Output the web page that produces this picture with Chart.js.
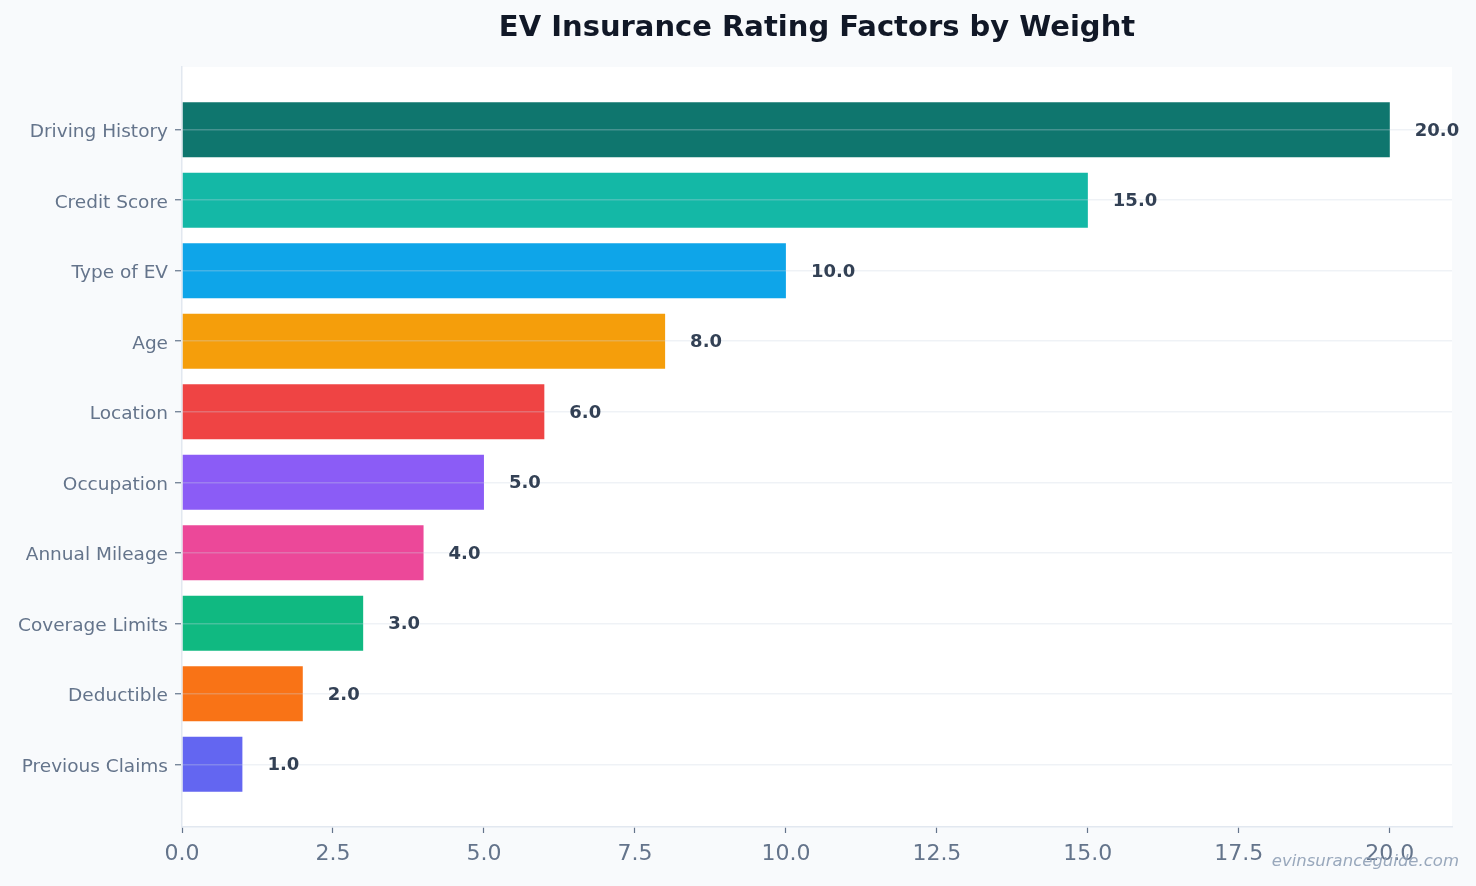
<!DOCTYPE html>
<html>
<head>
<meta charset="utf-8">
<script src="https://cdn.jsdelivr.net/npm/chart.js@4.4.1/dist/chart.umd.min.js"></script>
<style>
  html, body { margin: 0; padding: 0; background: #f8fafc; }
  #wrap { width: 1476px; height: 886px; position: relative; }
</style>
</head>
<body>
<div id="wrap"><canvas id="factorsChart"></canvas></div>
<script>
// chart data
const factors = ['Driving History', 'Credit Score', 'Type of EV', 'Age', 'Location',
  'Occupation', 'Annual Mileage', 'Coverage Limits', 'Deductible', 'Previous Claims'];
const weights = [20, 15, 10, 8, 6, 5, 4, 3, 2, 1];
const barColors = ['#0f766e', '#14b8a6', '#0ea5e9', '#f59e0b', '#ef4444',
  '#8b5cf6', '#ec4899', '#10b981', '#f97316', '#6366f1'];
const xTicks = [0, 2.5, 5, 7.5, 10, 12.5, 15, 17.5, 20];

const FONT = "'DejaVu Sans', sans-serif";

// white plot area behind the bars
const plotBackground = {
  id: 'plotBackground',
  beforeDraw(chart) {
    const { ctx, chartArea: a } = chart;
    ctx.save();
    ctx.fillStyle = '#ffffff';
    ctx.fillRect(a.left, a.top, a.right - a.left, a.bottom - a.top);
    ctx.restore();
  }
};

// title centred over the plot area, value labels, watermark
const extras = {
  id: 'extras',
  afterDraw(chart) {
    const { ctx, chartArea: a } = chart;
    ctx.save();
    ctx.fillStyle = '#111827';
    ctx.font = `bold 29px ${FONT}`;
    ctx.textAlign = 'center';
    ctx.textBaseline = 'middle';
    ctx.fillText('EV Insurance Rating Factors by Weight', (a.left + a.right) / 2, 28);

    const meta = chart.getDatasetMeta(0);
    ctx.font = `bold 18px ${FONT}`;
    ctx.fillStyle = '#334155';
    ctx.textAlign = 'left';
    meta.data.forEach((bar, i) => {
      ctx.fillText(weights[i].toFixed(1), bar.x + 25, bar.y + 1.5);
    });

    ctx.font = `italic 16.5px ${FONT}`;
    ctx.fillStyle = 'rgba(148, 163, 184, 0.95)';
    ctx.textAlign = 'right';
    ctx.fillText('evinsuranceguide.com', 1459, 862);
    ctx.restore();
  }
};

const ctx = document.getElementById('factorsChart').getContext('2d');
new Chart(ctx, {
  type: 'bar',
  data: {
    datasets: [{
      data: weights.map((w, i) => ({ x: w, y: i })),
      backgroundColor: barColors,
      borderWidth: 0,
      categoryPercentage: 1,
      barPercentage: 0.78
    }]
  },
  options: {
    indexAxis: 'y',
    responsive: true,
    maintainAspectRatio: false,
    animation: false,
    layout: { padding: { top: 67, right: 24, left: 0, bottom: 0 } },
    plugins: {
      legend: { display: false },
      tooltip: { enabled: false },
      title: { display: false }
    },
    scales: {
      x: {
        type: 'linear',
        min: 0,
        max: 21.03,
        offset: false,
        afterBuildTicks: s => { s.ticks = xTicks.map(v => ({ value: v })); },
        afterFit: s => { s.height = 59; },
        grid: { offset: false, drawOnChartArea: false, drawTicks: true, tickLength: 6, tickColor: '#64748b', tickWidth: 1.2 },
        border: { color: '#e2e8f0', width: 1.5 },
        ticks: {
          font: { family: FONT, size: 22 },
          color: '#64748b',
          padding: 8,
          callback: v => Number(v).toFixed(1)
        }
      },
      y: {
        type: 'linear',
        reverse: true,
        min: -0.89,
        max: 9.89,
        offset: false,
        afterBuildTicks: s => { s.ticks = factors.map((_, i) => ({ value: i })); },
        afterFit: s => { s.width = 182; },
        // grid drawn over the bars, like the original
        grid: { offset: false, z: 1, color: 'rgba(203, 213, 225, 0.3)', lineWidth: 1.5, tickLength: 7, tickColor: '#64748b', tickWidth: 1.2 },
        border: { z: 2, color: '#e2e8f0', width: 1.5 },
        ticks: {
          font: { family: FONT, size: 18.5 },
          color: '#64748b',
          padding: 7,
          labelOffset: 2.5,
          callback: v => factors[v]
        }
      }
    }
  },
  plugins: [plotBackground, extras]
});
</script>
</body>
</html>
